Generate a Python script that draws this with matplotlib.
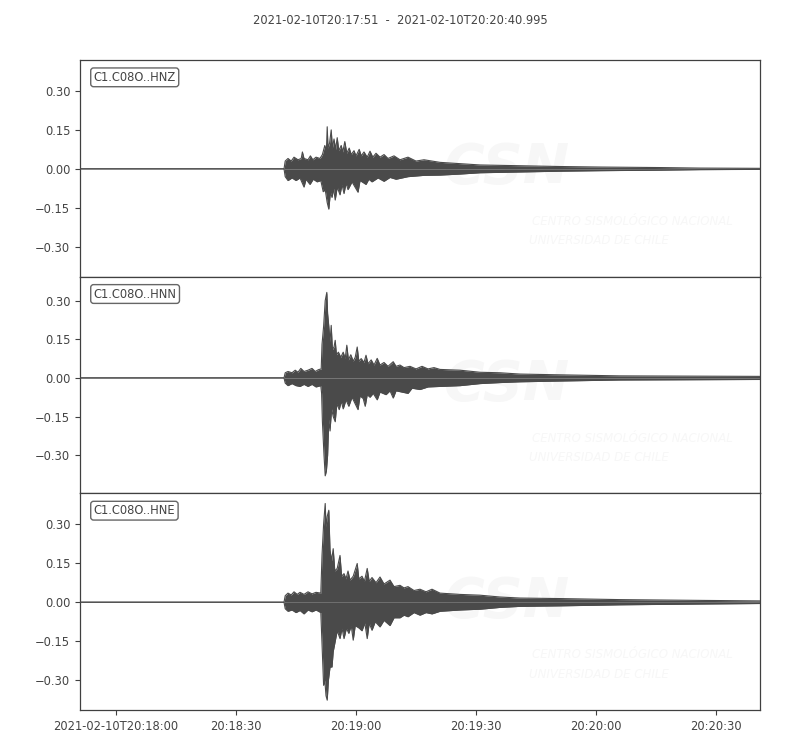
import matplotlib
matplotlib.use("Agg")
import matplotlib.pyplot as plt

# ---- data: (seconds after 2021-02-10T20:17:51, envelope amplitude) ----
title_text = "2021-02-10T20:17:51  -  2021-02-10T20:20:40.995"
trace_ids = ["C1.C08O..HNZ", "C1.C08O..HNN", "C1.C08O..HNE"]
t_end = 169.995

hnz_upper = [(0, 0), (51.0, 0), (51.3, 0.03), (52, 0.04), (52.8, 0.03), (53.5, 0.045),
             (54.5, 0.035), (55.3, 0.04), (55.6, 0.065), (56, 0.04), (57, 0.035),
             (57.6, 0.05), (58.2, 0.035), (59, 0.045), (60, 0.04), (60.6, 0.055),
             (61.2, 0.09), (61.6, 0.07), (61.8, 0.162), (62.0, 0.08), (62.4, 0.10),
             (62.8, 0.15), (63.1, 0.08), (63.5, 0.115), (63.9, 0.075), (64.3, 0.12),
             (64.7, 0.07), (65.3, 0.09), (65.7, 0.065), (66.2, 0.105), (66.7, 0.06),
             (67.3, 0.08), (67.8, 0.055), (68.5, 0.07), (69.0, 0.05), (69.8, 0.075),
             (70.3, 0.05), (71.0, 0.065), (71.8, 0.045), (72.5, 0.068), (73.2, 0.045),
             (74.0, 0.06), (75, 0.045), (76, 0.055), (77, 0.04), (78.5, 0.05), (80, 0.035),
             (82, 0.045), (84, 0.03), (86, 0.035), (90, 0.025), (95, 0.02), (100, 0.015),
             (110, 0.012), (120, 0.009), (130, 0.007), (145, 0.005), (155, 0.003),
             (169.995, 0.002)]
hnz_lower = [(0, 0), (51.0, 0), (51.3, -0.03), (52, -0.045), (53, -0.035), (54, -0.045),
             (55, -0.035), (56, -0.07), (56.5, -0.04), (57.5, -0.06), (58.3, -0.04),
             (59.3, -0.05), (60.2, -0.045), (60.8, -0.088), (61.3, -0.08), (61.8, -0.13),
             (62.2, -0.155), (62.6, -0.09), (63.0, -0.11), (63.4, -0.075), (63.8, -0.12),
             (64.3, -0.07), (65, -0.10), (65.5, -0.06), (66, -0.095), (66.5, -0.055),
             (67, -0.08), (68, -0.05), (69.5, -0.09), (70, -0.045), (71.5, -0.06),
             (72.2, -0.04), (73, -0.05), (74.5, -0.035), (76, -0.048), (77.5, -0.033),
             (79, -0.04), (82, -0.03), (86, -0.025), (90, -0.024), (95, -0.02),
             (100, -0.015), (110, -0.012), (120, -0.009), (130, -0.007), (145, -0.005),
             (155, -0.003), (169.995, -0.002)]

hnn_upper = [(0, 0), (51, 0), (51.3, 0.02), (52, 0.025), (53, 0.02), (53.8, 0.03),
             (54.5, 0.022), (55.2, 0.037), (56, 0.025), (57, 0.03), (58, 0.037),
             (58.8, 0.025), (59.6, 0.032), (60.3, 0.035), (60.5, 0.13), (60.9, 0.20),
             (61.3, 0.30), (61.7, 0.332), (61.9, 0.25), (62.2, 0.20), (62.5, 0.14),
             (62.8, 0.204), (63.1, 0.11), (63.5, 0.12), (63.8, 0.146), (64.1, 0.09),
             (64.6, 0.10), (65.2, 0.08), (65.8, 0.10), (66.3, 0.075), (66.7, 0.127),
             (67.1, 0.07), (67.7, 0.09), (68.3, 0.065), (68.8, 0.08), (69.3, 0.12),
             (69.7, 0.065), (70.3, 0.075), (71, 0.06), (71.5, 0.088), (72, 0.055),
             (72.8, 0.07), (73.5, 0.05), (74.3, 0.076), (75, 0.05), (76, 0.06), (77, 0.045),
             (78.3, 0.063), (79, 0.045), (80, 0.05), (81, 0.04), (82.5, 0.045), (84, 0.035),
             (85.5, 0.045), (87, 0.035), (88.5, 0.04), (90, 0.033), (95, 0.03),
             (100, 0.022), (105, 0.02), (110, 0.015), (120, 0.012), (135, 0.008),
             (169.995, 0.006)]
hnn_lower = [(0, 0), (51, 0), (51.3, -0.02), (52, -0.03), (53, -0.022), (54, -0.03),
             (55, -0.033), (56, -0.025), (57, -0.033), (58, -0.025), (59, -0.035),
             (60.2, -0.03), (60.4, -0.06), (60.6, -0.17), (61.0, -0.30), (61.3, -0.38),
             (61.6, -0.36), (61.9, -0.30), (62.2, -0.16), (62.5, -0.206), (62.9, -0.12),
             (63.3, -0.15), (63.8, -0.17), (64.2, -0.10), (64.8, -0.123), (65.3, -0.09),
             (65.8, -0.12), (66.5, -0.085), (67.2, -0.11), (68, -0.075), (69.5, -0.123),
             (70, -0.07), (70.8, -0.08), (71.3, -0.11), (71.8, -0.065), (72.5, -0.075),
             (73.3, -0.06), (74.3, -0.085), (75, -0.055), (76.5, -0.065), (77.5, -0.05),
             (78.3, -0.078), (79, -0.05), (80.5, -0.055), (82, -0.06), (83, -0.04),
             (85, -0.045), (87, -0.035), (90, -0.033), (95, -0.03), (100, -0.022),
             (105, -0.018), (110, -0.015), (120, -0.012), (135, -0.008), (169.995, -0.006)]

hne_upper = [(0, 0), (51, 0), (51.3, 0.025), (52, 0.035), (52.8, 0.028), (53.5, 0.04),
             (54.3, 0.03), (55, 0.038), (56, 0.03), (57, 0.04), (58, 0.032), (59, 0.038),
             (60.2, 0.035), (60.5, 0.18), (60.9, 0.30), (61.3, 0.38), (61.5, 0.29),
             (61.8, 0.33), (62.2, 0.354), (62.5, 0.20), (62.9, 0.16), (63.3, 0.206),
             (63.7, 0.12), (64.3, 0.13), (65.0, 0.18), (65.4, 0.10), (66, 0.11),
             (66.5, 0.09), (67, 0.12), (67.5, 0.085), (68.3, 0.10), (69.3, 0.149),
             (69.7, 0.09), (70.5, 0.10), (71.1, 0.08), (71.8, 0.13), (72.3, 0.08),
             (73, 0.095), (74, 0.075), (75, 0.097), (76, 0.07), (77.5, 0.085), (78.5, 0.06),
             (80, 0.065), (81, 0.055), (82, 0.06), (83.5, 0.045), (85, 0.05), (86.5, 0.04),
             (88, 0.05), (90, 0.035), (95, 0.03), (100, 0.027), (105, 0.02), (110, 0.016),
             (120, 0.014), (135, 0.01), (155, 0.007), (169.995, 0.005)]
hne_lower = [(0, 0), (51, 0), (51.3, -0.025), (52, -0.035), (53, -0.03), (54, -0.04),
             (55, -0.032), (56, -0.045), (57, -0.03), (58, -0.037), (59, -0.03),
             (60.2, -0.04), (60.5, -0.16), (60.9, -0.32), (61.2, -0.30), (61.5, -0.36),
             (61.8, -0.377), (62.1, -0.30), (62.5, -0.25), (63.0, -0.249), (63.3, -0.19),
             (63.8, -0.15), (64.3, -0.11), (65, -0.14), (65.5, -0.10), (66, -0.14),
             (66.6, -0.10), (67.2, -0.12), (67.8, -0.09), (68.3, -0.146), (68.8, -0.09),
             (69.8, -0.10), (70.5, -0.11), (71.2, -0.08), (71.8, -0.14), (72.3, -0.08),
             (73, -0.108), (73.8, -0.075), (75, -0.095), (76, -0.07), (77.5, -0.09),
             (78.5, -0.06), (80, -0.06), (81, -0.05), (82, -0.056), (83.5, -0.04),
             (85, -0.05), (86.5, -0.04), (88, -0.045), (90, -0.035), (95, -0.03),
             (100, -0.027), (105, -0.02), (110, -0.016), (120, -0.014), (135, -0.01),
             (155, -0.007), (169.995, -0.005)]

ylims = [(-0.415, 0.419), (-0.448, 0.393), (-0.415, 0.419)]
y_ticks = [-0.30, -0.15, 0.00, 0.15, 0.30]
x_tick_pos = [9, 39, 69, 99, 129, 159]
x_tick_labels = ["2021-02-10T20:18:00", "20:18:30", "20:19:00", "20:19:30",
                 "20:20:00", "20:20:30"]

traces = [(hnz_upper, hnz_lower), (hnn_upper, hnn_lower), (hne_upper, hne_lower)]

wave_color = "#4a4a4a"
text_color = "#444444"
spine_color = "#404040"
wm_color = "#f7f7f7"

fig, axes = plt.subplots(3, 1, figsize=(8, 7.5), dpi=100, sharex=True)
fig.subplots_adjust(left=0.1, right=0.95, top=0.92, bottom=0.0533, hspace=0)

for ax, (upper, lower), tid, yl in zip(axes, traces, trace_ids, ylims):
    # faint watermark
    ax.text(0.628, 0.50, "CSN", transform=ax.transAxes, fontsize=40, fontweight="bold",
            fontstyle="italic", color=wm_color, ha="center", va="center", zorder=0)
    ax.text(0.665, 0.255, "CENTRO SISMOLÓGICO NACIONAL", transform=ax.transAxes,
            fontstyle="italic", fontsize=8.5, color=wm_color, ha="left", va="center",
            zorder=0)
    ax.text(0.66, 0.165, "UNIVERSIDAD DE CHILE", transform=ax.transAxes,
            fontstyle="italic", fontsize=8.5, color=wm_color, ha="left", va="center",
            zorder=0)

    tu = [p[0] for p in upper]
    vu = [p[1] for p in upper]
    tl = [p[0] for p in lower]
    vl = [p[1] for p in lower]
    ax.fill_between(tu, 0, vu, color=wave_color, lw=0, zorder=2)
    ax.fill_between(tl, vl, 0, color=wave_color, lw=0, zorder=2)
    ax.plot(tu, vu, color=wave_color, lw=0.8, zorder=3)
    ax.plot(tl, vl, color=wave_color, lw=0.8, zorder=3)

    ax.set_ylim(*yl)
    ax.set_xlim(0, t_end)
    ax.set_yticks(y_ticks)
    ax.set_yticklabels(["%.2f" % v if v >= 0 else "\u2212%.2f" % -v for v in y_ticks])
    ax.tick_params(axis="both", colors=spine_color, labelcolor=text_color, labelsize=8.3,
                   direction="out", length=3.5, width=0.8)
    ax.tick_params(axis="x", which="both", bottom=False, top=False)
    for s in ax.spines.values():
        s.set_color(spine_color)
        s.set_linewidth(0.9)
    ax.text(0.02, 0.95, tid, transform=ax.transAxes, ha="left", va="top",
            fontsize=8.3, color=text_color, zorder=5,
            bbox=dict(boxstyle="round,pad=0.25", fc="white", ec="#666666", lw=1.0))

axes[-1].set_xticks(x_tick_pos)
axes[-1].set_xticklabels(x_tick_labels)
axes[-1].tick_params(axis="x", bottom=True, labelbottom=True)

fig.text(0.5, 1 - 20 / 750, title_text, ha="center", va="center", fontsize=8.3,
         color=text_color)

fig.savefig("out.png", dpi=100)
